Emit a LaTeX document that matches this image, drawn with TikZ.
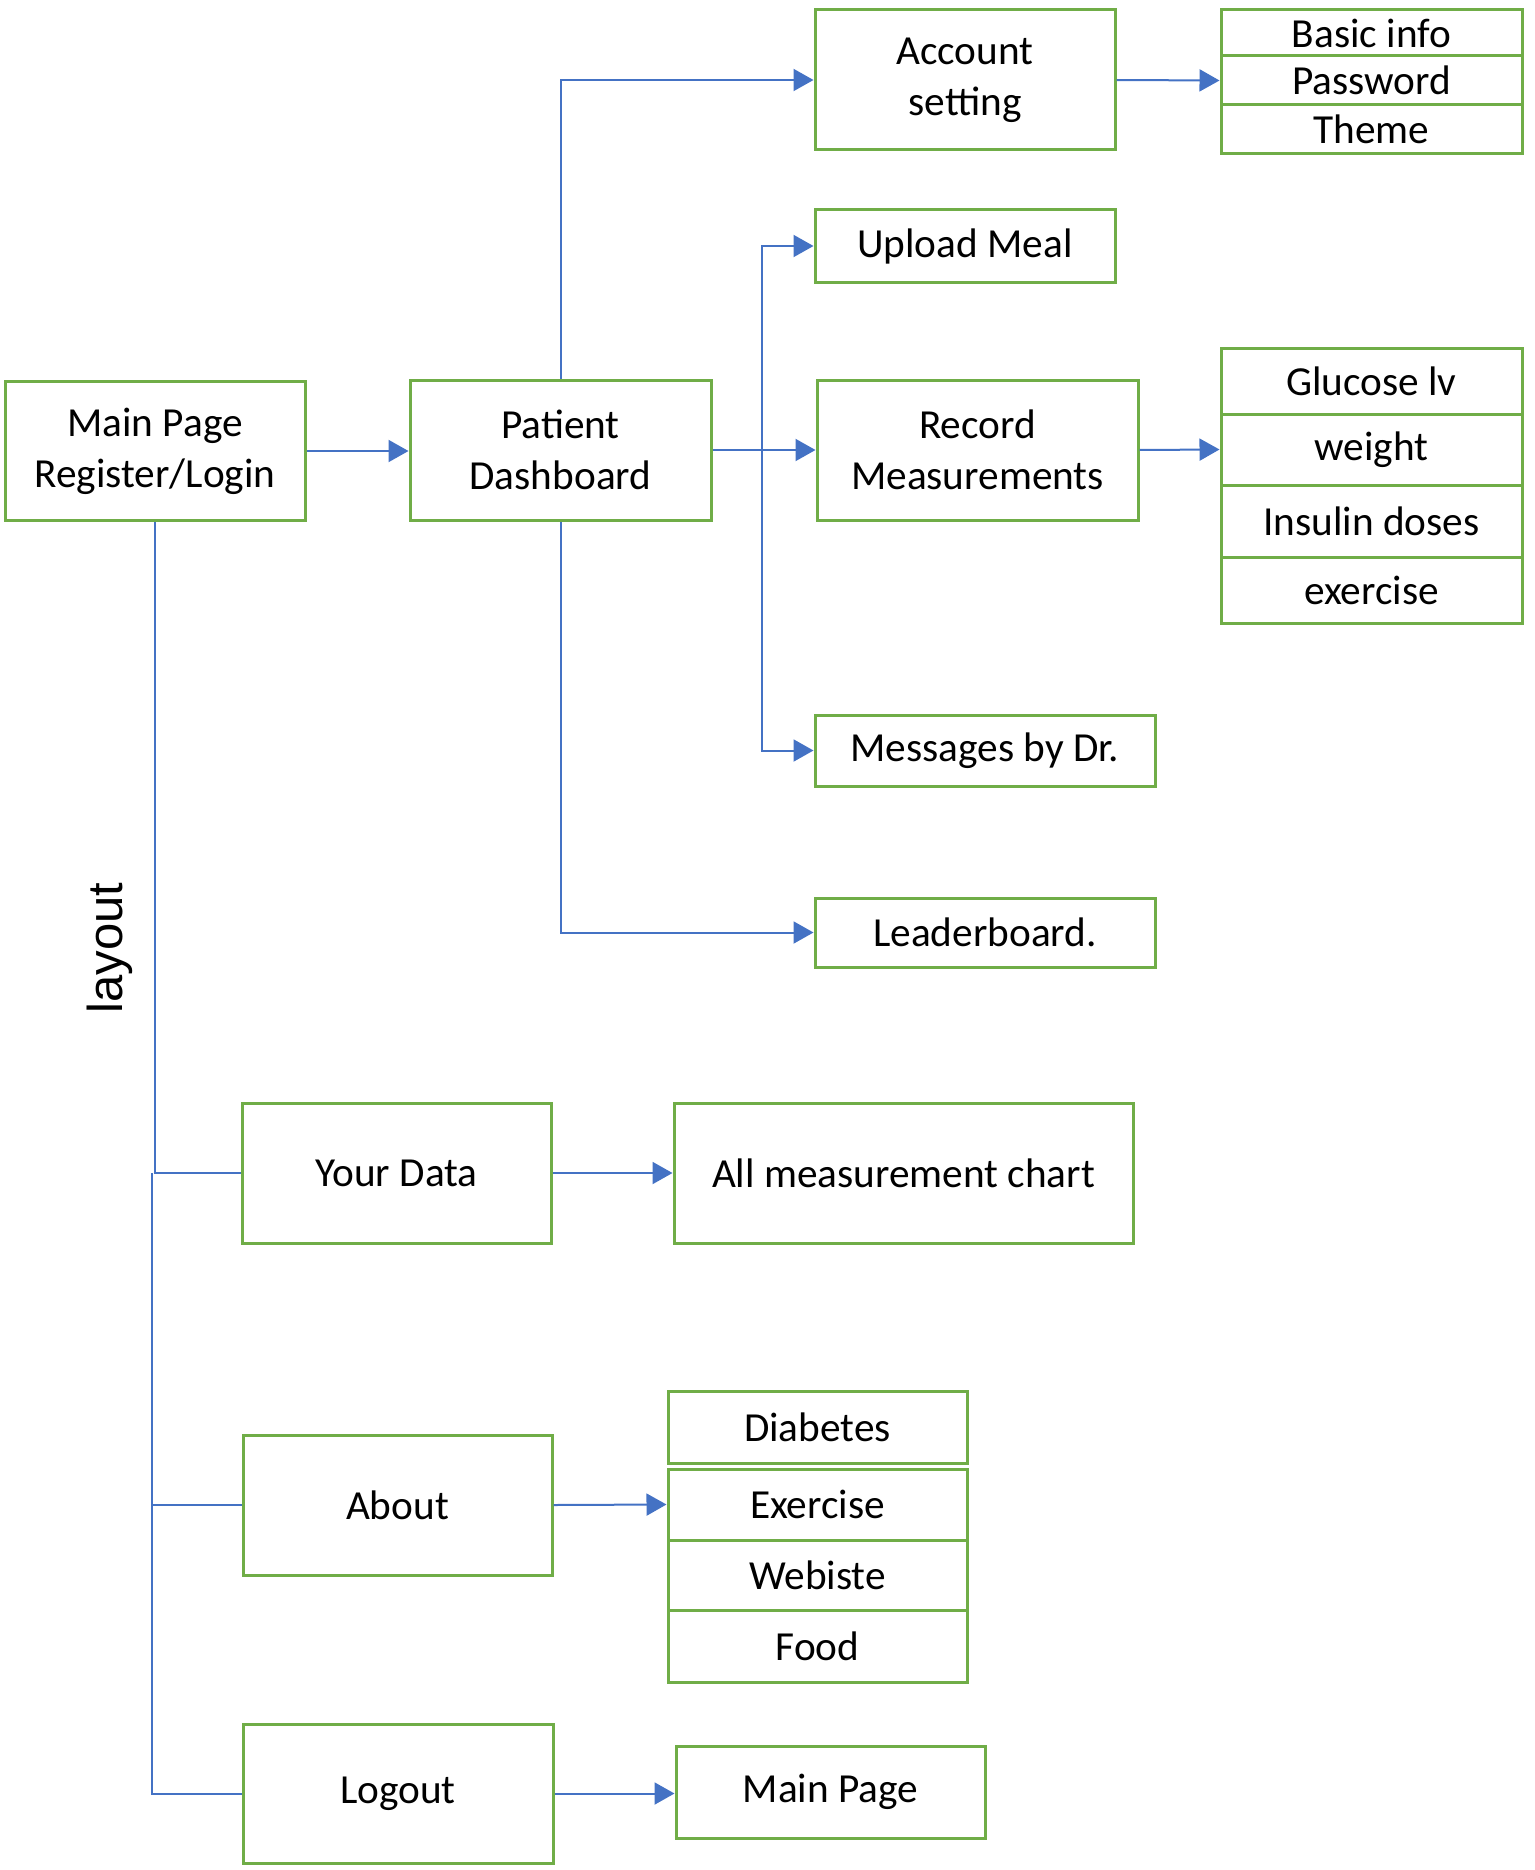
\documentclass[tikz,border=0pt]{standalone}
\usepackage{fontspec}
\setmainfont{Carlito}
\newfontfamily\labelfont{Liberation Sans}
\definecolor{boxgreen}{RGB}{112, 173, 71}
\definecolor{linkblue}{RGB}{68, 114, 196}
\usetikzlibrary{arrows.meta, positioning}

\tikzset{
  box/.style={draw=boxgreen, line width=3pt, rectangle, inner sep=0pt, align=center,
    font=\fontsize{41.3}{51.2}\selectfont},
  link/.style={draw=linkblue, line width=2pt},
  arr/.style={link, -{Triangle[length=20pt, width=22pt]}}
}

\begin{document}
\begin{tikzpicture}[x=1pt, y=-1pt]
  \useasboundingbox (0, 0) rectangle (1534, 1870);

  % Main column
  \node[box, minimum width=300pt, minimum height=139pt] (main) at (155, 451) {Main Page\\Register/Login};
  \node[box, minimum width=301pt, minimum height=140pt] (dash) at (560.5, 450) {Patient\\Dashboard};

  % Dashboard pages
  \node[box, minimum width=300pt, minimum height=140pt] (acct) at (965, 80) {Account\\setting};
  \node[box, minimum width=300pt, minimum height=72pt] (meal) at (965, 246) {Upload Meal};
  \node[box, minimum width=321pt, minimum height=140pt] (rec) at (977.5, 450) {Record\\Measurements};
  \node[box, minimum width=340pt, minimum height=71pt] (msg) at (985, 750.5) {Messages by Dr.};
  \node[box, minimum width=340pt, minimum height=69pt] (lead) at (985, 932.5) {Leaderboard.};

  % Account items
  \node[box, minimum width=301pt, minimum height=46pt] (info) at (1371.5, 33) {Basic info};
  \node[box, minimum width=301pt, minimum height=49pt] (pass) at (1371.5, 80.5) {Password};
  \node[box, minimum width=301pt, minimum height=49pt] (theme) at (1371.5, 129.5) {Theme};

  % Measurement items
  \node[box, minimum width=301pt, minimum height=66pt] (gluc) at (1371.5, 381) {Glucose lv};
  \node[box, minimum width=301pt, minimum height=71pt] (weight) at (1371.5, 449.5) {weight};
  \node[box, minimum width=301pt, minimum height=72pt] (ins) at (1371.5, 521.5) {Insulin doses};
  \node[box, minimum width=301pt, minimum height=66pt] (exer) at (1371.5, 590.5) {exercise};

  % Layout pages
  \node[box, minimum width=309pt, minimum height=140pt] (data) at (396.5, 1173) {Your Data};
  \node[box, minimum width=459pt, minimum height=140pt] (chart) at (903.5, 1173) {All measurement chart};
  \node[box, minimum width=309pt, minimum height=140pt] (about) at (397.5, 1505) {About};
  \node[box, minimum width=310pt, minimum height=139pt] (logout) at (398, 1793.5) {Logout};
  \node[box, minimum width=309pt, minimum height=92pt] (home) at (830.5, 1792) {Main Page};

  % About items
  \node[box, minimum width=299pt, minimum height=72pt] (diab) at (817.5, 1427) {Diabetes};
  \node[box, minimum width=299pt, minimum height=71pt] (sport) at (817.5, 1504.5) {Exercise};
  \node[box, minimum width=299pt, minimum height=70pt] (web) at (817.5, 1575) {Webiste};
  \node[box, minimum width=299pt, minimum height=72pt] (food) at (817.5, 1646) {Food};

  \node[font=\labelfont\fontsize{49}{58}\selectfont, rotate=90] (lay) at (110, 948) {layout};

  % Connectors
  \coordinate (fork) at (762, 450);
  \coordinate (trunk) at (152, 1173);
  \draw[arr] (main.east) -- (main.east -| dash.west);
  \draw[arr] (dash.north) |- (acct.west);
  \draw[arr] (acct.east) -- (pass.west);
  \draw[arr] (dash.east) -- (rec.west);
  \draw[arr] (fork) |- (meal.west);
  \draw[arr] (fork) |- (msg.west);
  \draw[arr] (rec.east) -- (weight.west);
  \draw[arr] (dash.south) |- (lead.west);
  \draw[link] (main.south) |- (data.west);
  \draw[link] (trunk) |- (about.west);
  \draw[link] (trunk) |- (logout.west);
  \draw[arr] (data.east) -- (chart.west);
  \draw[arr] (about.east) -- (sport.west);
  \draw[arr] (logout.east) -- (logout.east -| home.west);
\end{tikzpicture}
\end{document}
